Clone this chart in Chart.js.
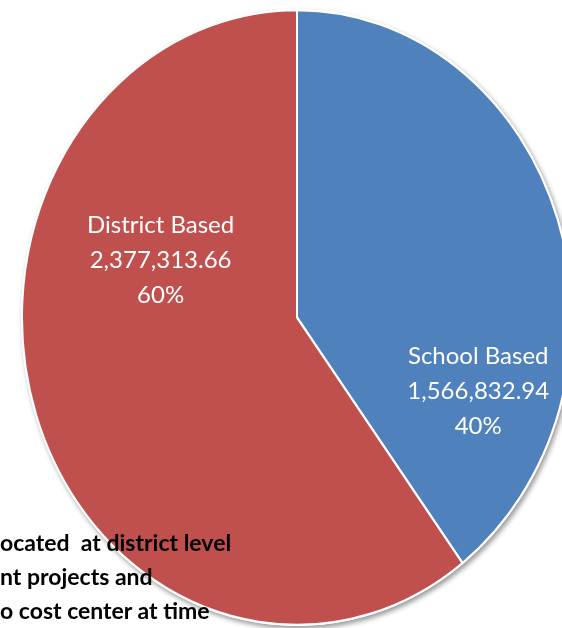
<!DOCTYPE html>
<html>
<head>
<meta charset="utf-8">
<script src="https://cdn.jsdelivr.net/npm/chart.js@4.4.1/dist/chart.umd.min.js"></script>
<style>
  html, body { margin: 0; padding: 0; background: #fff; }
  .wrap { position: relative; width: 562px; height: 628px; overflow: hidden; }
  #pie { position: absolute; left: 0; top: 0; display: block; }
  .note {
    position: absolute; left: 0; top: 525px;
    font: bold 23px Lato, "DejaVu Sans", sans-serif;
    line-height: 34px; color: #000; white-space: pre;
  }
</style>
</head>
<body>
<div class="wrap">
  <canvas id="pie" width="600" height="628"></canvas>
  <div class="note">ocated  at district level
nt projects and
o cost center at time</div>
</div>
<script>
// Chart data
const categories = ['School Based', 'District Based'];
const amounts = [1566832.94, 2377313.66];
const sliceColors = ['#4F81BD', '#C0504D'];

// the original pie is taller than it is wide
const STRETCH = 308.5 / 276;

// label spots as a share of the radius, measured from the centre
const labelSpots = [
    { dx: 0.659, dy: 0.241 },
    { dx: -0.496, dy: -0.186 }
];

const total = amounts.reduce((a, b) => a + b, 0);

function formatAmount(v) {
    return v.toLocaleString('en-US', { minimumFractionDigits: 2, maximumFractionDigits: 2 });
}

// squash the arcs into an ellipse and put a soft shadow under the whole pie
const ellipsePlugin = {
    id: 'ellipse',
    beforeDatasetsDraw(chart) {
        const ctx = chart.ctx;
        const arc = chart.getDatasetMeta(0).data[0];
        ctx.save();
        ctx.translate(arc.x, arc.y);
        ctx.scale(1, STRETCH);
        ctx.translate(-arc.x, -arc.y);

        ctx.save();
        ctx.shadowColor = 'rgba(0, 0, 0, 0.4)';
        ctx.shadowBlur = 5;
        ctx.shadowOffsetX = 2;
        ctx.shadowOffsetY = 3;
        ctx.fillStyle = '#ffffff';
        ctx.beginPath();
        ctx.arc(arc.x, arc.y, arc.outerRadius + 1, 0, Math.PI * 2);
        ctx.fill();
        ctx.restore();
    },
    afterDatasetsDraw(chart) {
        chart.ctx.restore();
    }
};

// value labels inside the slices
const labelPlugin = {
    id: 'sliceLabels',
    afterDraw(chart) {
        const ctx = chart.ctx;
        const arc = chart.getDatasetMeta(0).data[0];
        const r = arc.outerRadius;
        ctx.save();
        ctx.fillStyle = '#ffffff';
        ctx.font = '24px Lato, "DejaVu Sans", sans-serif';
        ctx.textAlign = 'center';
        ctx.textBaseline = 'middle';
        amounts.forEach((v, i) => {
            const x = arc.x + labelSpots[i].dx * r;
            const y = arc.y + labelSpots[i].dy * r * STRETCH;
            const lines = [
                categories[i],
                formatAmount(v),
                Math.round(v / total * 100) + '%'
            ];
            lines.forEach((t, j) => ctx.fillText(t, x, y + (j - 1) * 35));
        });
        ctx.restore();
    }
};

new Chart(document.getElementById('pie'), {
    type: 'pie',
    data: {
        labels: categories,
        datasets: [{
            data: amounts,
            backgroundColor: sliceColors,
            borderColor: '#ffffff',
            borderWidth: 2
        }]
    },
    options: {
        responsive: false,
        animation: false,
        devicePixelRatio: 1,
        layout: {
            padding: { left: 21, right: 27, top: 41.5, bottom: 34.5 }
        },
        plugins: {
            legend: { display: false },
            tooltip: { enabled: false }
        }
    },
    plugins: [ellipsePlugin, labelPlugin]
});
</script>
</body>
</html>
